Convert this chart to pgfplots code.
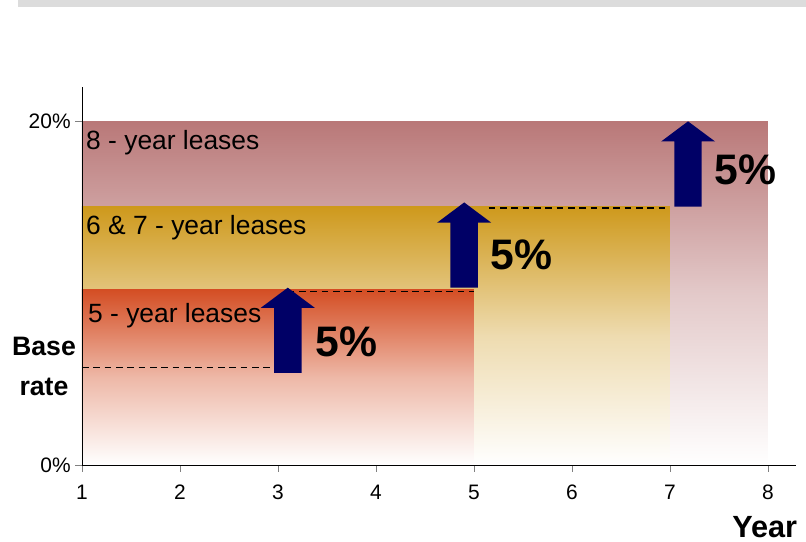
\documentclass[border=0pt]{standalone}
\usepackage{fontspec}
\setmainfont{Liberation Sans}
\usepackage{pgfplots}
\pgfplotsset{compat=1.18}
\definecolor{eightc}{RGB}{185,120,120}
\definecolor{sevenc}{RGB}{206,153,28}
\definecolor{fivec}{RGB}{212,78,36}
\definecolor{navyc}{RGB}{0,0,102}
\definecolor{barc}{RGB}{220,220,220}
\begin{document}
\begin{tikzpicture}
\useasboundingbox (-61.5pt,-57.75pt) rectangle (543pt,348.75pt);
\fill[barc] (-48pt,343.5pt) rectangle (543pt,348.75pt);
\begin{axis}[
 at={(0,0)}, anchor=south west,
 scale only axis, width=535.8pt, height=283.5pt,
 xmin=1, xmax=8.29, ymin=0, ymax=22,
 axis x line=bottom, axis y line=left,
 axis line style={-, black, line width=0.6pt},
 xtick={1,...,8}, xticklabels={1,2,3,4,5,6,7,\raisebox{-2.5pt}{8}},
 ytick={0,20}, yticklabels={0\%,20\%},
 tick align=outside, major tick length=5pt,
 tick style={gray, line width=0.6pt},
 /pgf/number format/assume math mode=true,
 tick label style={font=\fontsize{15.7}{18}\selectfont},
 xticklabel style={yshift=-6.5pt},
 clip=false, axis on top,
]
\addplot[draw=none, top color=eightc, bottom color=white, middle color=eightc!40!white] coordinates {(1,0) (1,20) (8,20) (8,0)} -- cycle;
\addplot[draw=none, top color=sevenc, bottom color=white, middle color=sevenc!35!white] coordinates {(1,0) (1,15.04) (7,15.04) (7,0)} -- cycle;
\addplot[draw=none, top color=fivec, bottom color=white, middle color=fivec!40!white] coordinates {(1,0) (1,10.2) (5,10.2) (5,0)} -- cycle;
\addplot[black, dash pattern=on 5pt off 3.5pt, line width=1pt] coordinates {(1,5.66) (3.2,5.66)};
\addplot[black, dash pattern=on 5pt off 3.5pt, line width=1pt] coordinates {(3.1,10.1) (5,10.1)};
\addplot[black, dash pattern=on 5pt off 3.5pt, line width=1pt] coordinates {(5.15,14.95) (6.95,14.95)};
\addplot[fill=navyc, draw=none] coordinates {(2.96,5.36) (3.24,5.36) (3.24,9.15) (3.375,9.15) (3.10,10.32) (2.825,9.15) (2.96,9.15)} -- cycle;
\addplot[fill=navyc, draw=none] coordinates {(4.76,10.32) (5.04,10.32) (5.04,14.11) (5.175,14.11) (4.90,15.28) (4.625,14.11) (4.76,14.11)} -- cycle;
\addplot[fill=navyc, draw=none] coordinates {(7.044,15.04) (7.324,15.04) (7.324,18.83) (7.46,18.83) (7.184,20.0) (6.91,18.83) (7.044,18.83)} -- cycle;
\node[anchor=west, inner sep=0, font=\fontsize{19.8}{24}\selectfont] at (axis cs:1.04,18.77) {8 - year leases};
\node[anchor=west, inner sep=0, font=\fontsize{19.8}{24}\selectfont] at (axis cs:1.04,13.82) {6 \& 7 - year leases};
\node[anchor=west, inner sep=0, font=\fontsize{19.8}{24}\selectfont] at (axis cs:1.06,8.69) {5 - year leases};
\node[anchor=west, inner sep=0, font=\fontsize{32}{38}\selectfont\bfseries] at (axis cs:3.378,7.17) {5\%};
\node[anchor=west, inner sep=0, font=\fontsize{32}{38}\selectfont\bfseries] at (axis cs:5.17,12.24) {5\%};
\node[anchor=west, inner sep=0, font=\fontsize{32}{38}\selectfont\bfseries] at (axis cs:7.45,17.2) {5\%};
\node[anchor=base east, inner sep=0, font=\fontsize{23}{28}\selectfont\bfseries] at (axis cs:8.30,-4.2) {Year};
\node[align=center, inner sep=0, font=\fontsize{20}{30}\selectfont\bfseries] at (axis cs:0.612,5.71) {Base\\rate};
\end{axis}
\end{tikzpicture}
\end{document}
